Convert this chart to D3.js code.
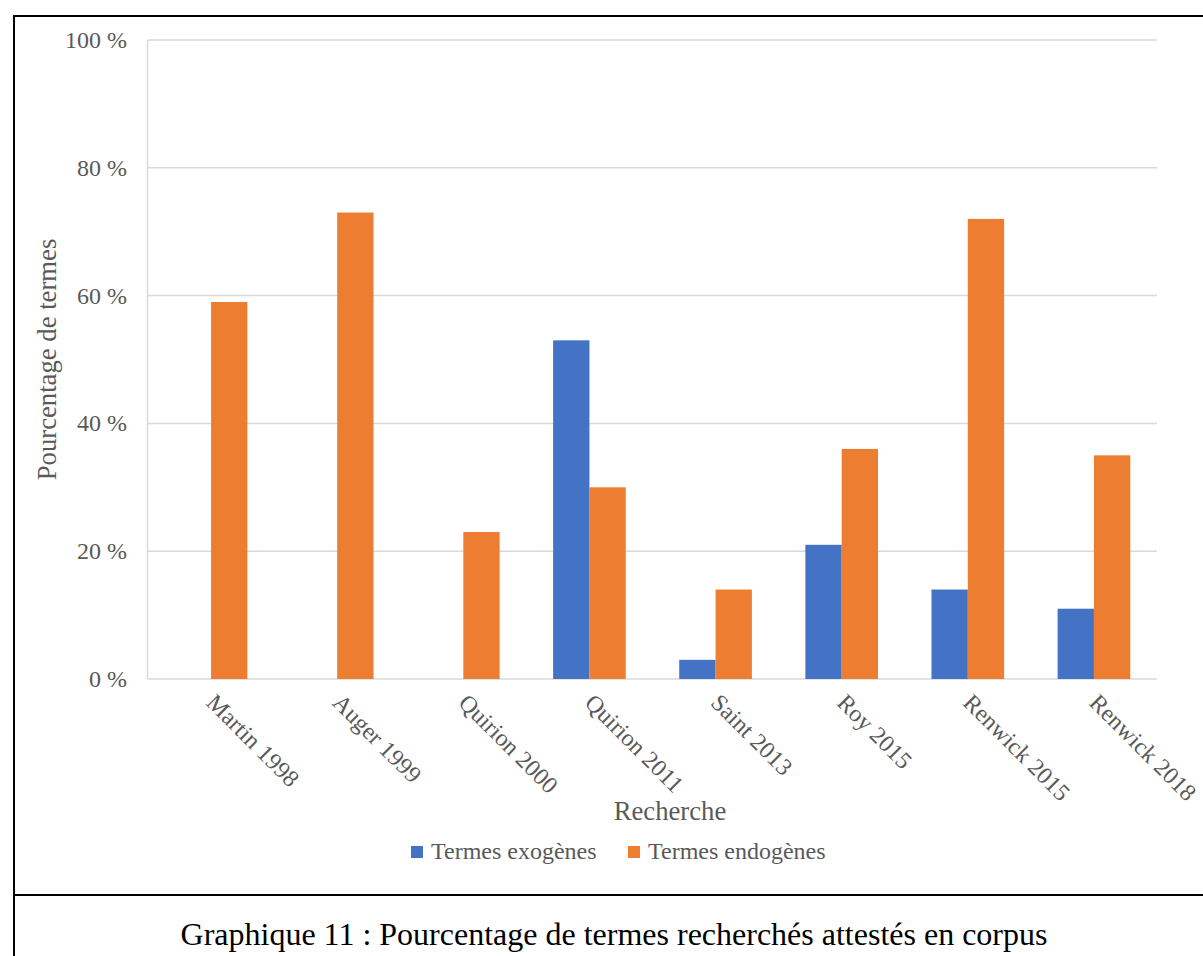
<!DOCTYPE html>
<html>
<head>
<meta charset="utf-8">
<script src="https://cdn.jsdelivr.net/npm/d3@7"></script>
<style>
  body { margin: 0; background: #fff; }
  svg { display: block; font-family: "Liberation Serif", "Times New Roman", serif; }
</style>
</head>
<body>
<script>
var categories = ["Martin 1998", "Auger 1999", "Quirion 2000", "Quirion 2011", "Saint 2013", "Roy 2015", "Renwick 2015", "Renwick 2018"];
var seriesNames = ["Termes exogènes", "Termes endogènes"];
var exogenes = [0, 0, 0, 53, 3, 21, 14, 11];
var endogenes = [59, 73, 23, 30, 14, 36, 72, 35];
var colors = ["#4472C4", "#ED7D31"];
var yTicks = [0, 20, 40, 60, 80, 100];

var width = 1203, height = 956;
var plotLeft = 148, plotRight = 1157, plotTop = 40, plotBottom = 679;

var data = categories.map(function(c, i) {
    return { cat: c, values: [exogenes[i], endogenes[i]] };
});

var svg = d3.select('body').append('svg')
    .attr('width', width)
    .attr('height', height);

// frame of the figure
svg.append('line').attr('x1', 13).attr('x2', width).attr('y1', 16).attr('y2', 16)
    .attr('stroke', '#000').attr('stroke-width', 2);
svg.append('line').attr('x1', 14).attr('x2', 14).attr('y1', 15).attr('y2', height)
    .attr('stroke', '#000').attr('stroke-width', 2);
svg.append('line').attr('x1', 13).attr('x2', width).attr('y1', 895).attr('y2', 895)
    .attr('stroke', '#000').attr('stroke-width', 2);

var y = d3.scaleLinear().domain([0, 100]).range([plotBottom, plotTop]);

var x0 = d3.scaleBand()
    .domain(categories)
    .range([plotLeft, plotRight])
    .paddingInner(0.424)
    .paddingOuter(0.212);

var x1 = d3.scaleBand()
    .domain([0, 1])
    .range([0, x0.bandwidth()]);

// gridlines
svg.append('g')
    .selectAll('line')
    .data(yTicks)
    .enter().append('line')
    .attr('x1', plotLeft).attr('x2', plotRight)
    .attr('y1', function(d) { return y(d); })
    .attr('y2', function(d) { return y(d); })
    .attr('stroke', '#d9d9d9')
    .attr('stroke-width', 1.5);

svg.append('line')
    .attr('x1', plotLeft - 0.5).attr('x2', plotLeft - 0.5)
    .attr('y1', y(100)).attr('y2', y(0))
    .attr('stroke', '#d9d9d9').attr('stroke-width', 1.5);

// y tick labels
svg.append('g')
    .selectAll('text')
    .data(yTicks)
    .enter().append('text')
    .attr('x', plotLeft - 21)
    .attr('y', function(d) { return y(d) + 8; })
    .attr('text-anchor', 'end')
    .attr('fill', '#595959')
    .style('font-size', '24px')
    .text(function(d) { return d + ' %'; });

// bars
var groups = svg.append('g')
    .selectAll('g')
    .data(data)
    .enter().append('g')
    .attr('transform', function(d) { return 'translate(' + x0(d.cat) + ',0)'; });

groups.selectAll('rect')
    .data(function(d) { return d.values; })
    .enter().append('rect')
    .attr('x', function(d, i) { return x1(i); })
    .attr('width', x1.bandwidth())
    .attr('y', function(d) { return y(d); })
    .attr('height', function(d) { return y(0) - y(d); })
    .attr('fill', function(d, i) { return colors[i]; });

// x labels, rotated
svg.append('g')
    .selectAll('text')
    .data(categories)
    .enter().append('text')
    .attr('transform', function(d) {
        var cx = x0(d) + x0.bandwidth() / 2;
        return 'translate(' + (cx - 6) + ',' + (plotBottom + 25) + ') rotate(45)';
    })
    .attr('text-anchor', 'start')
    .attr('fill', '#595959')
    .style('font-size', '24px')
    .text(function(d) { return d; });

// axis titles
svg.append('text')
    .attr('x', 670)
    .attr('y', 820)
    .attr('text-anchor', 'middle')
    .attr('fill', '#595959')
    .style('font-size', '26.7px')
    .text('Recherche');

svg.append('text')
    .attr('transform', 'translate(56,' + ((plotTop + plotBottom) / 2) + ') rotate(-90)')
    .attr('text-anchor', 'middle')
    .attr('fill', '#595959')
    .style('font-size', '26.7px')
    .text('Pourcentage de termes');

// legend
var legendX = [411, 628];
var legend = svg.append('g')
    .selectAll('g')
    .data(seriesNames)
    .enter().append('g')
    .attr('transform', function(d, i) { return 'translate(' + legendX[i] + ',846)'; });

legend.append('rect')
    .attr('width', 12).attr('height', 12)
    .attr('fill', function(d, i) { return colors[i]; });

legend.append('text')
    .attr('x', 20)
    .attr('y', 13)
    .attr('fill', '#595959')
    .style('font-size', '24px')
    .text(function(d) { return d; });

// caption
svg.append('text')
    .attr('x', 614)
    .attr('y', 945)
    .attr('text-anchor', 'middle')
    .attr('fill', '#000')
    .style('font-size', '32px')
    .text('Graphique 11 : Pourcentage de termes recherchés attestés en corpus');
</script>
</body>
</html>
